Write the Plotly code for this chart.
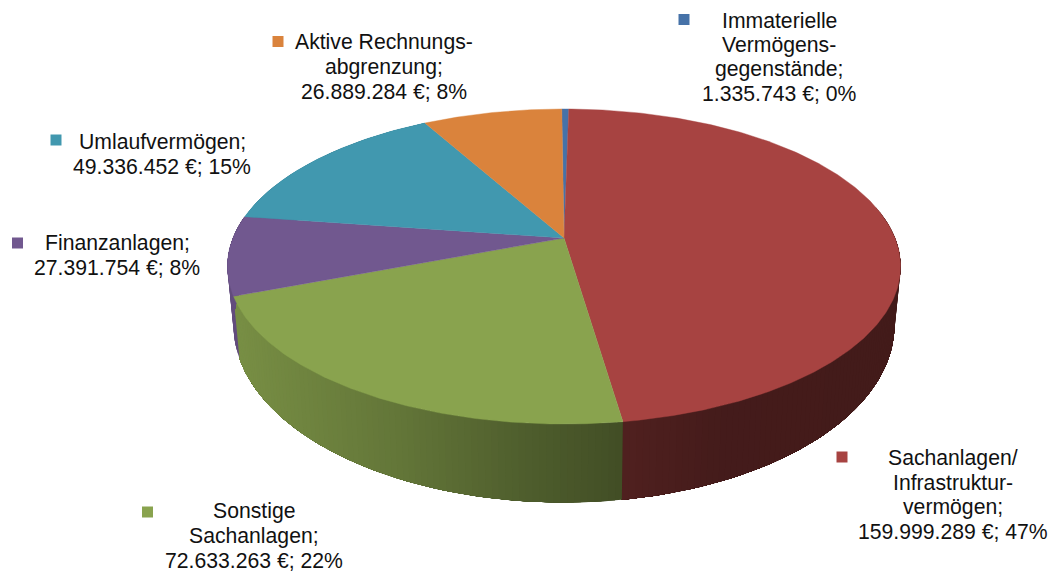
import numpy as np
import plotly.graph_objects as go

categories = ["Immaterielle Vermögensgegenstände", "Sachanlagen/Infrastrukturvermögen",
              "Sonstige Sachanlagen", "Finanzanlagen", "Umlaufvermögen", "Aktive Rechnungsabgrenzung"]
values = [1335743, 159999289, 72633263, 27391754, 49336452, 26889284]
percents = [0, 47, 22, 8, 15, 8]
label_lines = [["Immaterielle", "Vermögens-", "gegenstände;"],
               ["Sachanlagen/", "Infrastruktur-", "vermögen;"],
               ["Sonstige", "Sachanlagen;"],
               ["Finanzanlagen;"],
               ["Umlaufvermögen;"],
               ["Aktive Rechnungs-", "abgrenzung;"]]
colors = ["#4672A8", "#A74341", "#89A34E", "#71588F", "#4198AF", "#DA833C"]

# layout of labels (centre x, first line y) and legend keys
label_pos = [(779, 20), (953, 458), (254, 511), (117, 243), (162, 142), (384, 42)]
key_pos = [(684, 19.5), (842, 457), (147.5, 512), (17.5, 243), (56, 140), (278, 41.5)]
LINE = 24.5

# projection of the pie disc (top plane / bottom plane)
CX, K, ROT = 564, 0.181, np.radians(-0.45)
TOP = dict(cy=238, a=331, b=152.4)
BOTTOM = dict(cy=293, a=325, b=171.6)

def project(theta, plane=TOP):
    theta = theta + ROT
    u, v = np.sin(theta), -np.cos(theta)
    d = 1 - K * v
    return CX + plane["a"] * u / d, plane["cy"] + plane["b"] * v / d

def shade(hex_color, f):
    r, g, b = (int(hex_color[i:i + 2], 16) for i in (1, 3, 5))
    return f"rgb({r * f:.0f},{g * f:.0f},{b * f:.0f})"

total = sum(values)
edges = np.concatenate([[0], np.cumsum(values)]) / total * 2 * np.pi

fig = go.Figure()

# side wall: each strip runs on to the slice's far edge, so no seams show
for i in range(len(values)):
    t_start, t_end = edges[i], edges[i + 1]
    n = max(2, int(np.ceil((t_end - t_start) / np.radians(1.0))) + 1)
    ts = np.linspace(t_start, t_end, n)
    for t0, t1 in zip(ts[:-1], ts[1:]):
        mid = (t0 + t1) / 2
        if -np.cos(mid) < -0.2:
            continue
        xm, _ = project(mid)
        f = np.interp(xm, [228, 400, 520, 620, 720, 900], [0.88, 0.72, 0.58, 0.48, 0.41, 0.40])
        ang = np.linspace(t0, t_end, max(3, int((t_end - t0) / 0.02)))
        xt, yt = project(ang)
        xb, yb = project(ang[::-1], BOTTOM)
        fig.add_trace(go.Scatter(x=np.r_[xt, xb, xt[0]], y=np.r_[yt, yb, yt[0]], mode="lines",
                                 fill="toself", fillcolor=shade(colors[i], f), line=dict(width=0),
                                 hoverinfo="skip", showlegend=False))

# top face
for i in range(len(values)):
    ang = np.linspace(edges[i], edges[i + 1], max(3, int((edges[i + 1] - edges[i]) / 0.01)))
    xs, ys = project(ang)
    fig.add_trace(go.Scatter(x=np.r_[CX, xs, CX], y=np.r_[TOP["cy"], ys, TOP["cy"]], mode="lines",
                             fill="toself", fillcolor=colors[i], line=dict(color=colors[i], width=0.4),
                             name=categories[i], hoverinfo="skip", showlegend=False))

# legend keys
for i in range(len(values)):
    fig.add_trace(go.Scatter(x=[key_pos[i][0]], y=[key_pos[i][1]], mode="markers",
                             marker=dict(symbol="square", size=11, color=colors[i], line=dict(width=0)),
                             hoverinfo="skip", showlegend=False))

# labels
for i in range(len(values)):
    value_txt = f"{values[i]:,}".replace(",", ".") + f" €; {percents[i]}%"
    for j, line in enumerate(label_lines[i] + [value_txt]):
        fig.add_annotation(x=label_pos[i][0], y=label_pos[i][1] + j * LINE, text=line, showarrow=False,
                           xanchor="center", yanchor="middle",
                           font=dict(family="Liberation Sans", size=21.2, color="#111111"))

fig.update_layout(width=1050, height=572, margin=dict(l=0, r=0, t=0, b=0),
                  paper_bgcolor="white", plot_bgcolor="white", showlegend=False,
                  xaxis=dict(range=[0, 1050], visible=False, fixedrange=True),
                  yaxis=dict(range=[572, 0], visible=False, fixedrange=True))
fig.write_html("out.html", config={"displayModeBar": False},
               post_script="document.body.style.margin='0';document.documentElement.style.overflow='hidden';")
